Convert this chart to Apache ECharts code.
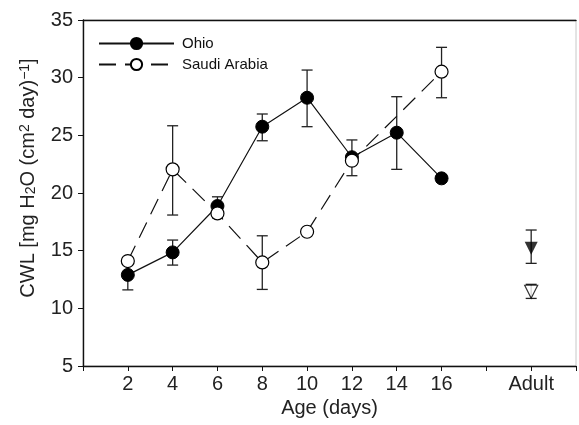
<!DOCTYPE html>
<html><head><meta charset="utf-8">
<script src="https://cdn.jsdelivr.net/npm/echarts@6/dist/echarts.min.js"></script>
<style>html,body{margin:0;padding:0;background:#fff}#c{width:579px;height:425px}</style>
</head><body><div id="c"></div>
<script>
var ages = [2, 4, 6, 8, 10, 12, 14, 16];
var ohioMean = [12.9, 14.85, 18.87, 25.75, 28.26, 23.1, 25.23, 21.27];
var ohioLow  = [11.6, 13.75, 17.95, 24.53, 25.75, 21.5, 22.05, 20.95];
var ohioHigh = [14.2, 15.92, 19.67, 26.85, 30.66, 24.6, 28.35, 21.6];
var saudiAges = [2, 4, 6, 8, 10, 12, 16];
var saudiMean = [14.1, 22.05, 18.23, 13.98, 16.64, 22.8, 30.52];
var saudiLow  = [14.1, 18.09, 17.85, 11.64, 16.4, 22.5, 28.26];
var saudiHigh = [14.1, 25.83, 18.6, 16.29, 16.9, 23.1, 32.63];
var adultX = 20;
var adultOhio = [15.2, 13.9, 16.79];
var adultSaudi = [11.44, 10.86, 12.08];
var xTickLabels = {2:'2',4:'4',6:'6',8:'8',10:'10',12:'12',14:'14',16:'16',20:'Adult'};
var seriesNames = ['Ohio', 'Saudi Arabia'];

function errData(xs, lo, hi) {
  return xs.map(function (x, i) { return [x, lo[i], hi[i]]; });
}
function errRender(params, api) {
  var x = api.value(0), lo = api.value(1), hi = api.value(2);
  var p1 = api.coord([x, hi]), p2 = api.coord([x, lo]);
  var w = 5.5;
  var st = {stroke: '#222', lineWidth: 1.3};
  return {type: 'group', children: [
    {type: 'line', shape: {x1: p1[0], y1: p1[1], x2: p2[0], y2: p2[1]}, style: st},
    {type: 'line', shape: {x1: p1[0]-w, y1: p1[1], x2: p1[0]+w, y2: p1[1]}, style: st},
    {type: 'line', shape: {x1: p2[0]-w, y1: p2[1], x2: p2[0]+w, y2: p2[1]}, style: st}
  ]};
}
var allErr = errData(ages, ohioLow, ohioHigh)
  .concat(errData(saudiAges, saudiLow, saudiHigh))
  .concat([[adultX, adultOhio[1], adultOhio[2]], [adultX, adultSaudi[1], adultSaudi[2]]]);

var chart = echarts.init(document.getElementById('c'));
var font = 'Liberation Sans, Arial, sans-serif';
chart.setOption({
  animation: false,
  textStyle: {fontFamily: font},
  grid: {left: 83, right: 1, top: 20, bottom: 59, show: true, borderColor: '#c8c8c8', borderWidth: 1},
  legend: {
    left: 93, top: 31, orient: 'vertical', itemGap: 6,
    itemWidth: 75, itemHeight: 14,
    textStyle: {fontSize: 15, color: '#111', fontFamily: font, padding: [0, 0, 0, 3]},
    data: seriesNames
  },
  xAxis: [{
    type: 'value', min: 0, max: 22, interval: 2, position: 'bottom',
    axisLine: {onZero: false, lineStyle: {color: '#111', width: 1.4}},
    axisTick: {show: true, inside: false, length: 5, lineStyle: {color: '#111'}},
    axisLabel: {fontSize: 20, color: '#222', margin: 8,
      formatter: function (v) { return xTickLabels[v] || ''; }},
    splitLine: {show: false},
    name: 'Age (days)', nameLocation: 'middle', nameGap: 32,
    nameTextStyle: {fontSize: 20, color: '#222'}
  }, {
    type: 'value', min: 0, max: 22, position: 'top',
    axisLine: {show: true, onZero: false, lineStyle: {color: '#111', width: 1.4}},
    axisTick: {show: false}, axisLabel: {show: false}, splitLine: {show: false}
  }],
  yAxis: {
    type: 'value', min: 5, max: 35, interval: 5,
    axisLine: {show: true, onZero: false, lineStyle: {color: '#111', width: 1.4}},
    axisTick: {show: true, inside: false, length: 5, lineStyle: {color: '#111'}},
    axisLabel: {fontSize: 20, color: '#222', margin: 10},
    splitLine: {show: false},
    name: '{a|CWL [mg H}{sub|2}{a|O (cm}{sup|2}{a| day)}{sup|\u22121}{a|]}',
    nameLocation: 'middle', nameGap: 45,
    nameTextStyle: {
      color: '#222', padding: [0, 0, 0, 30],
      rich: {
        a: {fontSize: 20, color: '#222', fontFamily: font},
        sub: {fontSize: 14, color: '#222', fontFamily: font, verticalAlign: 'bottom'},
        sup: {fontSize: 14, color: '#222', fontFamily: font, verticalAlign: 'top'}
      }
    }
  },
  series: [
    {type: 'custom', name: 'err', renderItem: errRender, data: allErr, z: 1,
     encode: {x: 0, y: [1, 2]}},
    {type: 'line', name: seriesNames[0], data: ages.map(function (a, i) { return [a, ohioMean[i]]; }),
     symbol: 'circle', symbolSize: 13, z: 3,
     lineStyle: {color: '#111', width: 1.2},
     itemStyle: {color: '#000', borderColor: '#000', borderWidth: 1}},
    {type: 'line', name: seriesNames[1], data: saudiAges.map(function (a, i) { return [a, saudiMean[i]]; }),
     symbol: 'circle', symbolSize: 13, z: 4,
     lineStyle: {color: '#111', width: 1.2, type: [17, 9]},
     itemStyle: {color: '#fff', borderColor: '#000', borderWidth: 1.2}},
    {type: 'scatter', name: 'OhioAdult', data: [[adultX, adultOhio[0]]], symbol: 'triangle',
     symbolRotate: 180, symbolSize: 13, z: 3, itemStyle: {color: '#000'}},
    {type: 'scatter', name: 'SaudiAdult', data: [[adultX, adultSaudi[0]]], symbol: 'triangle',
     symbolRotate: 180, symbolSize: 13, z: 4, itemStyle: {color: '#fff', borderColor: '#000', borderWidth: 1.2}}
  ]
});
</script></body></html>
